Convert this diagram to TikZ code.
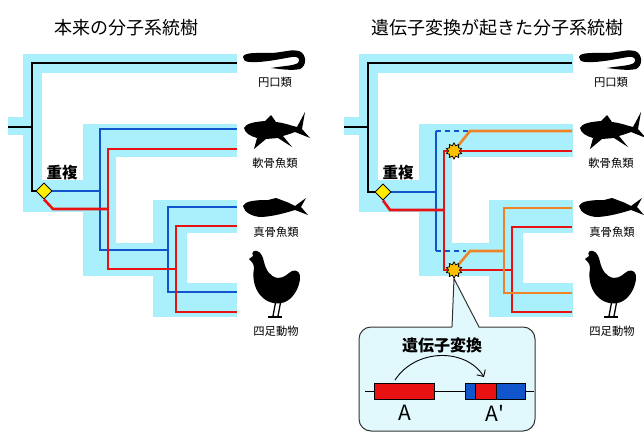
\documentclass[tikz,border=0pt]{standalone}
\usepackage{fontspec}
\setmainfont{Noto Sans CJK JP}
\usetikzlibrary{arrows.meta,shapes.geometric}

\definecolor{bandcol}{RGB}{170,240,252}
\definecolor{geneblue}{RGB}{17,85,204}
\definecolor{genered}{RGB}{232,18,18}
\definecolor{geneorange}{RGB}{240,130,40}
\definecolor{dupyellow}{RGB}{255,238,0}
\definecolor{convstar}{RGB}{255,192,0}
\definecolor{boxfill}{RGB}{225,248,252}

\tikzset{
  tree/.style={line width=2.6pt, line join=miter},
  dupmark/.style={diamond, draw=black, line width=0.8pt, fill=dupyellow,
    minimum size=16pt, inner sep=0pt},
  convmark/.style={star, star points=10, star point ratio=1.5, draw=black,
    line width=0.6pt, fill=convstar, minimum size=16pt, inner sep=0pt},
  taxon/.style={font=\fontsize{11.3}{12}\selectfont},
  heading/.style={font=\fontsize{18}{20}\selectfont},
  exon/.style={draw=black, line width=0.8pt}
}

% light band behind the gene tree
\newcommand{\bandfill}{%
  \fill[bandcol] (8,117) rectangle (23,135);
  \fill[bandcol] (23,54) rectangle (237,73);
  \fill[bandcol] (23,54) rectangle (42,212);
  \fill[bandcol] (23,180) rectangle (83,212);
  \fill[bandcol] (83,124) rectangle (237,157);
  \fill[bandcol] (83,124) rectangle (116,276);
  \fill[bandcol] (83,243) rectangle (153,276);
  \fill[bandcol] (153,200) rectangle (237,233);
  \fill[bandcol] (153,200) rectangle (187,317);
  \fill[bandcol] (153,283) rectangle (237,317);
}

% animal silhouettes and taxon names
\newcommand{\animals}{%
  \fill (243,57) .. controls (244,52) and (258,53) .. (272,53)
    .. controls (285,52) and (292,49) .. (299,51)
    .. controls (307,54) and (307,66) .. (300,69)
    .. controls (292,71) and (280,69) .. (271,68)
    .. controls (282,66) and (293,66) .. (298,63)
    .. controls (301,59) and (298,56) .. (292,57)
    .. controls (280,59) and (262,63) .. (250,62)
    .. controls (245,62) and (243,60) .. cycle;
  \fill (244,128) .. controls (246,124) and (252,122) .. (265,121) -- (271,115)
    -- (276,122) .. controls (285,123) and (292,126) .. (297,127) -- (305,112)
    -- (302,129) -- (310,138) -- (295,132)
    .. controls (290,134) and (286,135) .. (283,136) -- (292,147) -- (278,138)
    -- (266,139) -- (254,149) -- (257,138)
    .. controls (250,136) and (245,133) .. cycle;
  \fill (243,206) .. controls (245,201) and (255,200) .. (268,200) -- (276,198)
    -- (284,201) .. controls (290,203) and (293,205) .. (295,206) -- (306,198)
    -- (301,207) -- (308,215) -- (295,210)
    .. controls (285,213) and (275,216) .. (262,217)
    .. controls (252,217) and (244,212) .. cycle;
  \fill (249,259) -- (253,256) .. controls (251,252) and (254,250) .. (257,251)
    .. controls (261,252) and (263,257) .. (264,262)
    .. controls (266,270) and (270,277) .. (278,278)
    .. controls (285,278) and (288,273) .. (292,271)
    .. controls (297,269) and (301,273) .. (300,279)
    .. controls (299,287) and (295,296) .. (287,301)
    .. controls (280,305) and (270,304) .. (263,298)
    .. controls (255,291) and (252,280) .. (254,268)
    .. controls (254,264) and (252,262) .. cycle;
  \draw[line width=1.3pt] (276,300) -- (273,316) (281,300) -- (278,316);
  \draw[line width=1.2pt] (268,317) -- (282,317);
  \node[taxon] (cyclo) at (275,82) {円口類};
  \node[taxon] (chondr) at (275,163) {軟骨魚類};
  \node[taxon] (teleo) at (276,232) {真骨魚類};
  \node[taxon] (tetra) at (276,331) {四足動物};
}

\begin{document}
\begin{tikzpicture}[x=1pt, y=-1pt]
  \useasboundingbox (0,0) rectangle (644,433);
  \clip (0,0) rectangle (644,433);

  \node[heading] (titleL) at (126,28) {本来の分子系統樹};
  \node[heading] (titleR) at (497,28) {遺伝子変換が起きた分子系統樹};

  % original tree
  \begin{scope}
    \bandfill
    \node[dupmark] (dup1) at (44,191) {};
    \draw[tree] (8,127) -- (32,127);
    \draw[tree] (237,63) -- (32,63) -- (32,191) -- (dup1.west);
    \draw[tree, geneblue] (dup1.east) -- (100,191);
    \draw[tree, geneblue] (237,129) -- (100,129) -- (100,250) -- (168,250);
    \draw[tree, geneblue] (237,207) -- (168,207) -- (168,292) -- (237,292);
    \draw[tree, genered] (dup1.south) -- (53,209) -- (108,209);
    \draw[tree, genered] (237,149) -- (108,149) -- (108,269) -- (176,269);
    \draw[tree, genered] (237,226) -- (176,226) -- (176,312) -- (237,312);
    \node[dupmark] at (dup1) {};
    \node[font=\bfseries\fontsize{15.5}{16}\selectfont] (dupL) at (62,173) {重複};
    \animals
  \end{scope}

  % tree after gene conversion
  \begin{scope}[xshift=336]
    \bandfill
    \node[dupmark] (dup2) at (47,192) {};
    \node[convmark] (star1) at (118,151) {};
    \node[convmark] (star2) at (118,270) {};
    \draw[tree] (8,127) -- (32,127);
    \draw[tree] (236,63) -- (32,63) -- (32,192) -- (dup2.west);
    \draw[tree, geneblue] (dup2.east) -- (100,192);
    \draw[tree, geneblue] (100,131) -- (100,251);
    \draw[tree, geneblue, dash pattern=on 5pt off 4pt] (100,131) -- (132,131);
    \draw[tree, geneblue, dash pattern=on 5pt off 4pt] (100,251) -- (130,251);
    \draw[tree, genered] (dup2.south) -- (54,210) -- (108,210);
    \draw[tree, genered] (star1.center) -- (108,151) -- (108,270) -- (star2.center);
    \draw[tree, genered] (star1.center) -- (236,151);
    \draw[tree, genered] (star2.center) -- (176,270);
    \draw[tree, genered] (236,227) -- (176,227) -- (176,312) -- (236,312);
    \draw[tree, geneorange] (star1.center) -- (134,131) -- (236,131);
    \draw[tree, geneorange] (star2.center) -- (134,251) -- (168,251);
    \draw[tree, geneorange] (236,208) -- (168,208) -- (168,293) -- (236,293);
    \node[dupmark] at (dup2) {};
    \node[convmark] at (star1) {};
    \node[convmark] at (star2) {};
    \node[font=\bfseries\fontsize{15.5}{16}\selectfont] (dupR) at (62,173) {重複};
    \animals

    % callout: what happened at the lower star
    \draw[fill=boxfill, draw=black!80, line width=1pt, rounded corners=12pt]
      (23,327) rectangle (199,431);
    \fill[boxfill] (116,328.5) -- (star2.south) -- (143,328.5) -- cycle;
    \draw[draw=black!80, line width=1pt] (116,327) -- (star2.south) -- (143,327);
    \node[font=\bfseries\fontsize{16}{17}\selectfont] (convT) at (106,345) {遺伝子変換};
    \draw[line width=0.9pt] (29,391) -- (198,391);
    \draw[exon, fill=genered] (38,383) rectangle (98,399);
    \draw[exon, fill=geneblue] (129,383) rectangle (189,399);
    \draw[exon, fill=genered] (139,383) rectangle (160,399);
    \node[font=\fontsize{21}{22}\selectfont] (geneA) at (69,413) {A};
    \node[font=\fontsize{21}{22}\selectfont] (geneB) at (159,413) {A\textquotesingle};
    \draw[line width=0.9pt, -{Straight Barb[length=5pt]}]
      (59,380) .. controls (80,348) and (130,348) .. (148,377);
  \end{scope}
\end{tikzpicture}
\end{document}
